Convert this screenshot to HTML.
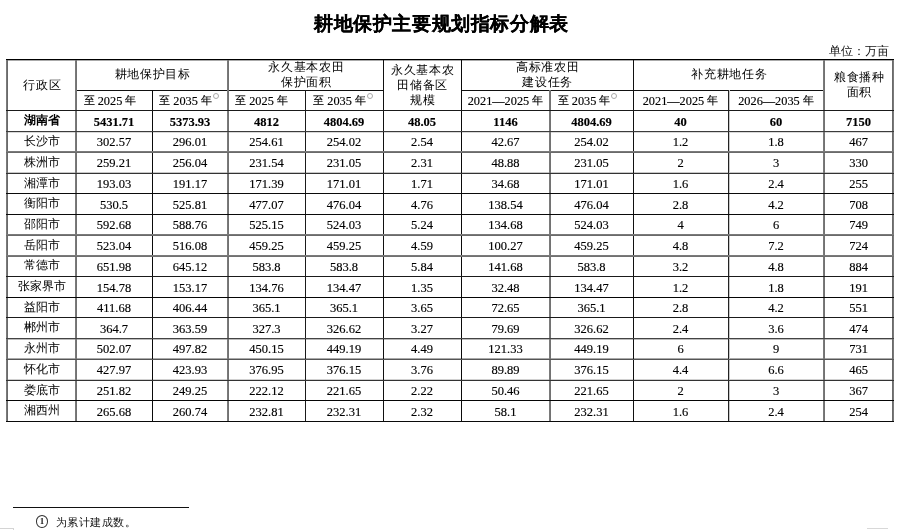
<!DOCTYPE html>
<html><head><meta charset="utf-8">
<style>
html,body{margin:0;padding:0;background:#fff;}
body{width:900px;height:530px;position:relative;overflow:hidden;will-change:transform;font-family:"Liberation Serif",serif;color:#111;}
.l{position:absolute;}
.c{position:absolute;display:flex;align-items:center;justify-content:center;text-align:center;white-space:nowrap;}
.cj{font-family:"Liberation Sans",sans-serif;font-size:12px;line-height:15px;color:#000;}
.sb{font-family:"Liberation Serif",serif;font-size:12.3px;line-height:15px;color:#000;-webkit-text-stroke:0.15px #000;}
.n{font-family:"Liberation Serif",serif;font-size:12.5px;line-height:15px;color:#000;-webkit-text-stroke:0.15px #000;}
.b{font-weight:bold;color:#000;}
.h>span{letter-spacing:0.7px;position:relative;left:0.8px;}
.n>span{display:inline-block;position:relative;top:1.5px;}
.sb>span{position:relative;top:1px;}
.sb .k{top:-1px;}
.sup{display:inline-block;width:4px;height:4px;border:0.8px solid #aaa;border-radius:50%;vertical-align:top;position:relative;top:-1px;margin-left:0.8px;}
.k{font-family:"Liberation Sans",sans-serif;font-size:11px;position:relative;top:1px;}
.title{position:absolute;left:314px;top:11.5px;-webkit-text-stroke:0.2px #000;letter-spacing:0.6px;font-family:"Liberation Serif",serif;font-weight:bold;font-size:19px;line-height:24px;white-space:nowrap;color:#000;}
.unit{position:absolute;left:829px;top:43px;font-family:"Liberation Sans",sans-serif;font-size:12px;line-height:16px;white-space:nowrap;color:#111;}
.fn{position:absolute;left:35px;top:516px;font-family:"Liberation Sans",sans-serif;font-size:10.5px;line-height:13px;white-space:nowrap;color:#111;}
</style></head><body>
<div class="title">耕地保护主要规划指标分解表</div>
<div class="unit">单位：万亩</div>
<div class="l" style="left:76px;top:90px;width:307px;height:1px;background:#111"></div>
<div class="l" style="left:461px;top:90px;width:363px;height:1px;background:#111"></div>
<div class="l" style="left:6px;top:60px;width:888px;height:1px;background:#aaa"></div>
<div class="l" style="left:6px;top:132px;width:888px;height:1px;background:#d8d8d8"></div>
<div class="l" style="left:6px;top:172px;width:888px;height:1px;background:#c8c8c8"></div>
<div class="l" style="left:6px;top:339px;width:888px;height:1px;background:#bbb"></div>
<div class="l" style="left:6px;top:358px;width:888px;height:1px;background:#aaa"></div>
<div class="l" style="left:6px;top:379px;width:888px;height:1px;background:#d0d0d0"></div>
<div class="l" style="left:6px;top:59px;width:1px;height:363px;background:#7a7a7a"></div>
<div class="l" style="left:7px;top:59px;width:1px;height:363px;background:#6a6a6a"></div>
<div class="l" style="left:75px;top:59px;width:1px;height:363px;background:#7a7a7a"></div>
<div class="l" style="left:76px;top:59px;width:1px;height:363px;background:#727272"></div>
<div class="l" style="left:152px;top:90px;width:1px;height:332px;background:#0a0a0a"></div>
<div class="l" style="left:227px;top:59px;width:1px;height:363px;background:#7a7a7a"></div>
<div class="l" style="left:228px;top:59px;width:1px;height:363px;background:#727272"></div>
<div class="l" style="left:305px;top:90px;width:1px;height:332px;background:#1a1a1a"></div>
<div class="l" style="left:383px;top:59px;width:1px;height:363px;background:#111"></div>
<div class="l" style="left:461px;top:59px;width:1px;height:363px;background:#0a0a0a"></div>
<div class="l" style="left:549px;top:90px;width:1px;height:332px;background:#7a7a7a"></div>
<div class="l" style="left:550px;top:90px;width:1px;height:332px;background:#727272"></div>
<div class="l" style="left:633px;top:59px;width:1px;height:363px;background:#111"></div>
<div class="l" style="left:728px;top:90px;width:1px;height:332px;background:#222"></div>
<div class="l" style="left:729px;top:90px;width:1px;height:332px;background:#c8c8c8"></div>
<div class="l" style="left:823px;top:59px;width:1px;height:363px;background:#7a7a7a"></div>
<div class="l" style="left:824px;top:59px;width:1px;height:363px;background:#727272"></div>
<div class="l" style="left:892px;top:59px;width:1px;height:363px;background:#6a6a6a"></div>
<div class="l" style="left:893px;top:59px;width:1px;height:363px;background:#7a7a7a"></div>
<div class="l" style="left:6px;top:59px;width:888px;height:1px;background:#000"></div>
<div class="l" style="left:6px;top:110px;width:888px;height:1px;background:#1a1a1a"></div>
<div class="l" style="left:6px;top:131px;width:888px;height:1px;background:#3c3c3c"></div>
<div class="l" style="left:6px;top:151px;width:888px;height:1px;background:#7a7a7a"></div>
<div class="l" style="left:6px;top:152px;width:888px;height:1px;background:#6a6a6a"></div>
<div class="l" style="left:6px;top:173px;width:888px;height:1px;background:#333"></div>
<div class="l" style="left:6px;top:193px;width:888px;height:1px;background:#0a0a0a"></div>
<div class="l" style="left:6px;top:214px;width:888px;height:1px;background:#0a0a0a"></div>
<div class="l" style="left:6px;top:234px;width:888px;height:1px;background:#7a7a7a"></div>
<div class="l" style="left:6px;top:235px;width:888px;height:1px;background:#6a6a6a"></div>
<div class="l" style="left:6px;top:255px;width:888px;height:1px;background:#7a7a7a"></div>
<div class="l" style="left:6px;top:256px;width:888px;height:1px;background:#707070"></div>
<div class="l" style="left:6px;top:276px;width:888px;height:1px;background:#1a1a1a"></div>
<div class="l" style="left:6px;top:297px;width:888px;height:1px;background:#050505"></div>
<div class="l" style="left:6px;top:317px;width:888px;height:1px;background:#1a1a1a"></div>
<div class="l" style="left:6px;top:338px;width:888px;height:1px;background:#444"></div>
<div class="l" style="left:6px;top:359px;width:888px;height:1px;background:#555"></div>
<div class="l" style="left:6px;top:380px;width:888px;height:1px;background:#333"></div>
<div class="l" style="left:6px;top:400px;width:888px;height:1px;background:#050505"></div>
<div class="l" style="left:6px;top:421px;width:888px;height:1px;background:#0a0a0a"></div>
<div class="c cj h" style="left:7px;top:60px;width:69px;height:51px"><span>行政区</span></div>
<div class="c cj h" style="left:76px;top:59px;width:152px;height:31px"><span>耕地保护目标</span></div>
<div class="c cj h" style="left:228px;top:59px;width:155px;height:31px"><span>永久基本农田<br>保护面积</span></div>
<div class="c cj h" style="left:383px;top:60px;width:78px;height:51px"><span>永久基本农<br>田储备区<br>规模</span></div>
<div class="c cj h" style="left:461px;top:59px;width:172px;height:31px"><span>高标准农田<br>建设任务</span></div>
<div class="c cj h" style="left:633px;top:59px;width:191px;height:31px"><span>补充耕地任务</span></div>
<div class="c cj h" style="left:824px;top:59px;width:69px;height:51px"><span>粮食播种<br>面积</span></div>
<div class="c sb" style="left:72px;top:90px;width:76px;height:20px"><span><span class="k">至</span> 2025 <span class="k">年</span></span></div>
<div class="c sb" style="left:151px;top:90px;width:76px;height:20px"><span><span class="k">至</span> 2035 <span class="k">年</span><span class="sup"></span></span></div>
<div class="c sb" style="left:223px;top:90px;width:77px;height:20px"><span><span class="k">至</span> 2025 <span class="k">年</span></span></div>
<div class="c sb" style="left:304px;top:90px;width:78px;height:20px"><span><span class="k">至</span> 2035 <span class="k">年</span><span class="sup"></span></span></div>
<div class="c sb" style="left:461px;top:90px;width:89px;height:20px"><span>2021—2025 <span class="k">年</span></span></div>
<div class="c sb" style="left:546px;top:90px;width:83px;height:20px"><span><span class="k">至</span> 2035 <span class="k">年</span><span class="sup"></span></span></div>
<div class="c sb" style="left:633px;top:90px;width:95px;height:20px"><span>2021—2025 <span class="k">年</span></span></div>
<div class="c sb" style="left:728px;top:90px;width:96px;height:20px"><span>2026—2035 <span class="k">年</span></span></div>
<div class="c cj b" style="left:7px;top:110px;width:69px;height:21px"><span>湖南省</span></div>
<div class="c n b" style="left:76px;top:110px;width:76px;height:21px"><span>5431.71</span></div>
<div class="c n b" style="left:152px;top:110px;width:76px;height:21px"><span>5373.93</span></div>
<div class="c n b" style="left:228px;top:110px;width:77px;height:21px"><span>4812</span></div>
<div class="c n b" style="left:305px;top:110px;width:78px;height:21px"><span>4804.69</span></div>
<div class="c n b" style="left:383px;top:110px;width:78px;height:21px"><span>48.05</span></div>
<div class="c n b" style="left:461px;top:110px;width:89px;height:21px"><span>1146</span></div>
<div class="c n b" style="left:550px;top:110px;width:83px;height:21px"><span>4804.69</span></div>
<div class="c n b" style="left:633px;top:110px;width:95px;height:21px"><span>40</span></div>
<div class="c n b" style="left:728px;top:110px;width:96px;height:21px"><span>60</span></div>
<div class="c n b" style="left:824px;top:110px;width:69px;height:21px"><span>7150</span></div>
<div class="c cj" style="left:7px;top:131px;width:69px;height:20.5px"><span>长沙市</span></div>
<div class="c n" style="left:76px;top:131px;width:76px;height:20.5px"><span>302.57</span></div>
<div class="c n" style="left:152px;top:131px;width:76px;height:20.5px"><span>296.01</span></div>
<div class="c n" style="left:228px;top:131px;width:77px;height:20.5px"><span>254.61</span></div>
<div class="c n" style="left:305px;top:131px;width:78px;height:20.5px"><span>254.02</span></div>
<div class="c n" style="left:383px;top:131px;width:78px;height:20.5px"><span>2.54</span></div>
<div class="c n" style="left:461px;top:131px;width:89px;height:20.5px"><span>42.67</span></div>
<div class="c n" style="left:550px;top:131px;width:83px;height:20.5px"><span>254.02</span></div>
<div class="c n" style="left:633px;top:131px;width:95px;height:20.5px"><span>1.2</span></div>
<div class="c n" style="left:728px;top:131px;width:96px;height:20.5px"><span>1.8</span></div>
<div class="c n" style="left:824px;top:131px;width:69px;height:20.5px"><span>467</span></div>
<div class="c cj" style="left:7px;top:151.5px;width:69px;height:21.5px"><span>株洲市</span></div>
<div class="c n" style="left:76px;top:151.5px;width:76px;height:21.5px"><span>259.21</span></div>
<div class="c n" style="left:152px;top:151.5px;width:76px;height:21.5px"><span>256.04</span></div>
<div class="c n" style="left:228px;top:151.5px;width:77px;height:21.5px"><span>231.54</span></div>
<div class="c n" style="left:305px;top:151.5px;width:78px;height:21.5px"><span>231.05</span></div>
<div class="c n" style="left:383px;top:151.5px;width:78px;height:21.5px"><span>2.31</span></div>
<div class="c n" style="left:461px;top:151.5px;width:89px;height:21.5px"><span>48.88</span></div>
<div class="c n" style="left:550px;top:151.5px;width:83px;height:21.5px"><span>231.05</span></div>
<div class="c n" style="left:633px;top:151.5px;width:95px;height:21.5px"><span>2</span></div>
<div class="c n" style="left:728px;top:151.5px;width:96px;height:21.5px"><span>3</span></div>
<div class="c n" style="left:824px;top:151.5px;width:69px;height:21.5px"><span>330</span></div>
<div class="c cj" style="left:7px;top:173px;width:69px;height:20px"><span>湘潭市</span></div>
<div class="c n" style="left:76px;top:173px;width:76px;height:20px"><span>193.03</span></div>
<div class="c n" style="left:152px;top:173px;width:76px;height:20px"><span>191.17</span></div>
<div class="c n" style="left:228px;top:173px;width:77px;height:20px"><span>171.39</span></div>
<div class="c n" style="left:305px;top:173px;width:78px;height:20px"><span>171.01</span></div>
<div class="c n" style="left:383px;top:173px;width:78px;height:20px"><span>1.71</span></div>
<div class="c n" style="left:461px;top:173px;width:89px;height:20px"><span>34.68</span></div>
<div class="c n" style="left:550px;top:173px;width:83px;height:20px"><span>171.01</span></div>
<div class="c n" style="left:633px;top:173px;width:95px;height:20px"><span>1.6</span></div>
<div class="c n" style="left:728px;top:173px;width:96px;height:20px"><span>2.4</span></div>
<div class="c n" style="left:824px;top:173px;width:69px;height:20px"><span>255</span></div>
<div class="c cj" style="left:7px;top:193px;width:69px;height:21px"><span>衡阳市</span></div>
<div class="c n" style="left:76px;top:193px;width:76px;height:21px"><span>530.5</span></div>
<div class="c n" style="left:152px;top:193px;width:76px;height:21px"><span>525.81</span></div>
<div class="c n" style="left:228px;top:193px;width:77px;height:21px"><span>477.07</span></div>
<div class="c n" style="left:305px;top:193px;width:78px;height:21px"><span>476.04</span></div>
<div class="c n" style="left:383px;top:193px;width:78px;height:21px"><span>4.76</span></div>
<div class="c n" style="left:461px;top:193px;width:89px;height:21px"><span>138.54</span></div>
<div class="c n" style="left:550px;top:193px;width:83px;height:21px"><span>476.04</span></div>
<div class="c n" style="left:633px;top:193px;width:95px;height:21px"><span>2.8</span></div>
<div class="c n" style="left:728px;top:193px;width:96px;height:21px"><span>4.2</span></div>
<div class="c n" style="left:824px;top:193px;width:69px;height:21px"><span>708</span></div>
<div class="c cj" style="left:7px;top:214px;width:69px;height:20.5px"><span>邵阳市</span></div>
<div class="c n" style="left:76px;top:214px;width:76px;height:20.5px"><span>592.68</span></div>
<div class="c n" style="left:152px;top:214px;width:76px;height:20.5px"><span>588.76</span></div>
<div class="c n" style="left:228px;top:214px;width:77px;height:20.5px"><span>525.15</span></div>
<div class="c n" style="left:305px;top:214px;width:78px;height:20.5px"><span>524.03</span></div>
<div class="c n" style="left:383px;top:214px;width:78px;height:20.5px"><span>5.24</span></div>
<div class="c n" style="left:461px;top:214px;width:89px;height:20.5px"><span>134.68</span></div>
<div class="c n" style="left:550px;top:214px;width:83px;height:20.5px"><span>524.03</span></div>
<div class="c n" style="left:633px;top:214px;width:95px;height:20.5px"><span>4</span></div>
<div class="c n" style="left:728px;top:214px;width:96px;height:20.5px"><span>6</span></div>
<div class="c n" style="left:824px;top:214px;width:69px;height:20.5px"><span>749</span></div>
<div class="c cj" style="left:7px;top:234.5px;width:69px;height:21.0px"><span>岳阳市</span></div>
<div class="c n" style="left:76px;top:234.5px;width:76px;height:21.0px"><span>523.04</span></div>
<div class="c n" style="left:152px;top:234.5px;width:76px;height:21.0px"><span>516.08</span></div>
<div class="c n" style="left:228px;top:234.5px;width:77px;height:21.0px"><span>459.25</span></div>
<div class="c n" style="left:305px;top:234.5px;width:78px;height:21.0px"><span>459.25</span></div>
<div class="c n" style="left:383px;top:234.5px;width:78px;height:21.0px"><span>4.59</span></div>
<div class="c n" style="left:461px;top:234.5px;width:89px;height:21.0px"><span>100.27</span></div>
<div class="c n" style="left:550px;top:234.5px;width:83px;height:21.0px"><span>459.25</span></div>
<div class="c n" style="left:633px;top:234.5px;width:95px;height:21.0px"><span>4.8</span></div>
<div class="c n" style="left:728px;top:234.5px;width:96px;height:21.0px"><span>7.2</span></div>
<div class="c n" style="left:824px;top:234.5px;width:69px;height:21.0px"><span>724</span></div>
<div class="c cj" style="left:7px;top:255.5px;width:69px;height:20.5px"><span>常德市</span></div>
<div class="c n" style="left:76px;top:255.5px;width:76px;height:20.5px"><span>651.98</span></div>
<div class="c n" style="left:152px;top:255.5px;width:76px;height:20.5px"><span>645.12</span></div>
<div class="c n" style="left:228px;top:255.5px;width:77px;height:20.5px"><span>583.8</span></div>
<div class="c n" style="left:305px;top:255.5px;width:78px;height:20.5px"><span>583.8</span></div>
<div class="c n" style="left:383px;top:255.5px;width:78px;height:20.5px"><span>5.84</span></div>
<div class="c n" style="left:461px;top:255.5px;width:89px;height:20.5px"><span>141.68</span></div>
<div class="c n" style="left:550px;top:255.5px;width:83px;height:20.5px"><span>583.8</span></div>
<div class="c n" style="left:633px;top:255.5px;width:95px;height:20.5px"><span>3.2</span></div>
<div class="c n" style="left:728px;top:255.5px;width:96px;height:20.5px"><span>4.8</span></div>
<div class="c n" style="left:824px;top:255.5px;width:69px;height:20.5px"><span>884</span></div>
<div class="c cj" style="left:7px;top:276px;width:69px;height:21px"><span>张家界市</span></div>
<div class="c n" style="left:76px;top:276px;width:76px;height:21px"><span>154.78</span></div>
<div class="c n" style="left:152px;top:276px;width:76px;height:21px"><span>153.17</span></div>
<div class="c n" style="left:228px;top:276px;width:77px;height:21px"><span>134.76</span></div>
<div class="c n" style="left:305px;top:276px;width:78px;height:21px"><span>134.47</span></div>
<div class="c n" style="left:383px;top:276px;width:78px;height:21px"><span>1.35</span></div>
<div class="c n" style="left:461px;top:276px;width:89px;height:21px"><span>32.48</span></div>
<div class="c n" style="left:550px;top:276px;width:83px;height:21px"><span>134.47</span></div>
<div class="c n" style="left:633px;top:276px;width:95px;height:21px"><span>1.2</span></div>
<div class="c n" style="left:728px;top:276px;width:96px;height:21px"><span>1.8</span></div>
<div class="c n" style="left:824px;top:276px;width:69px;height:21px"><span>191</span></div>
<div class="c cj" style="left:7px;top:297px;width:69px;height:20px"><span>益阳市</span></div>
<div class="c n" style="left:76px;top:297px;width:76px;height:20px"><span>411.68</span></div>
<div class="c n" style="left:152px;top:297px;width:76px;height:20px"><span>406.44</span></div>
<div class="c n" style="left:228px;top:297px;width:77px;height:20px"><span>365.1</span></div>
<div class="c n" style="left:305px;top:297px;width:78px;height:20px"><span>365.1</span></div>
<div class="c n" style="left:383px;top:297px;width:78px;height:20px"><span>3.65</span></div>
<div class="c n" style="left:461px;top:297px;width:89px;height:20px"><span>72.65</span></div>
<div class="c n" style="left:550px;top:297px;width:83px;height:20px"><span>365.1</span></div>
<div class="c n" style="left:633px;top:297px;width:95px;height:20px"><span>2.8</span></div>
<div class="c n" style="left:728px;top:297px;width:96px;height:20px"><span>4.2</span></div>
<div class="c n" style="left:824px;top:297px;width:69px;height:20px"><span>551</span></div>
<div class="c cj" style="left:7px;top:317px;width:69px;height:21px"><span>郴州市</span></div>
<div class="c n" style="left:76px;top:317px;width:76px;height:21px"><span>364.7</span></div>
<div class="c n" style="left:152px;top:317px;width:76px;height:21px"><span>363.59</span></div>
<div class="c n" style="left:228px;top:317px;width:77px;height:21px"><span>327.3</span></div>
<div class="c n" style="left:305px;top:317px;width:78px;height:21px"><span>326.62</span></div>
<div class="c n" style="left:383px;top:317px;width:78px;height:21px"><span>3.27</span></div>
<div class="c n" style="left:461px;top:317px;width:89px;height:21px"><span>79.69</span></div>
<div class="c n" style="left:550px;top:317px;width:83px;height:21px"><span>326.62</span></div>
<div class="c n" style="left:633px;top:317px;width:95px;height:21px"><span>2.4</span></div>
<div class="c n" style="left:728px;top:317px;width:96px;height:21px"><span>3.6</span></div>
<div class="c n" style="left:824px;top:317px;width:69px;height:21px"><span>474</span></div>
<div class="c cj" style="left:7px;top:338px;width:69px;height:20.5px"><span>永州市</span></div>
<div class="c n" style="left:76px;top:338px;width:76px;height:20.5px"><span>502.07</span></div>
<div class="c n" style="left:152px;top:338px;width:76px;height:20.5px"><span>497.82</span></div>
<div class="c n" style="left:228px;top:338px;width:77px;height:20.5px"><span>450.15</span></div>
<div class="c n" style="left:305px;top:338px;width:78px;height:20.5px"><span>449.19</span></div>
<div class="c n" style="left:383px;top:338px;width:78px;height:20.5px"><span>4.49</span></div>
<div class="c n" style="left:461px;top:338px;width:89px;height:20.5px"><span>121.33</span></div>
<div class="c n" style="left:550px;top:338px;width:83px;height:20.5px"><span>449.19</span></div>
<div class="c n" style="left:633px;top:338px;width:95px;height:20.5px"><span>6</span></div>
<div class="c n" style="left:728px;top:338px;width:96px;height:20.5px"><span>9</span></div>
<div class="c n" style="left:824px;top:338px;width:69px;height:20.5px"><span>731</span></div>
<div class="c cj" style="left:7px;top:358.5px;width:69px;height:21.5px"><span>怀化市</span></div>
<div class="c n" style="left:76px;top:358.5px;width:76px;height:21.5px"><span>427.97</span></div>
<div class="c n" style="left:152px;top:358.5px;width:76px;height:21.5px"><span>423.93</span></div>
<div class="c n" style="left:228px;top:358.5px;width:77px;height:21.5px"><span>376.95</span></div>
<div class="c n" style="left:305px;top:358.5px;width:78px;height:21.5px"><span>376.15</span></div>
<div class="c n" style="left:383px;top:358.5px;width:78px;height:21.5px"><span>3.76</span></div>
<div class="c n" style="left:461px;top:358.5px;width:89px;height:21.5px"><span>89.89</span></div>
<div class="c n" style="left:550px;top:358.5px;width:83px;height:21.5px"><span>376.15</span></div>
<div class="c n" style="left:633px;top:358.5px;width:95px;height:21.5px"><span>4.4</span></div>
<div class="c n" style="left:728px;top:358.5px;width:96px;height:21.5px"><span>6.6</span></div>
<div class="c n" style="left:824px;top:358.5px;width:69px;height:21.5px"><span>465</span></div>
<div class="c cj" style="left:7px;top:380px;width:69px;height:20px"><span>娄底市</span></div>
<div class="c n" style="left:76px;top:380px;width:76px;height:20px"><span>251.82</span></div>
<div class="c n" style="left:152px;top:380px;width:76px;height:20px"><span>249.25</span></div>
<div class="c n" style="left:228px;top:380px;width:77px;height:20px"><span>222.12</span></div>
<div class="c n" style="left:305px;top:380px;width:78px;height:20px"><span>221.65</span></div>
<div class="c n" style="left:383px;top:380px;width:78px;height:20px"><span>2.22</span></div>
<div class="c n" style="left:461px;top:380px;width:89px;height:20px"><span>50.46</span></div>
<div class="c n" style="left:550px;top:380px;width:83px;height:20px"><span>221.65</span></div>
<div class="c n" style="left:633px;top:380px;width:95px;height:20px"><span>2</span></div>
<div class="c n" style="left:728px;top:380px;width:96px;height:20px"><span>3</span></div>
<div class="c n" style="left:824px;top:380px;width:69px;height:20px"><span>367</span></div>
<div class="c cj" style="left:7px;top:400px;width:69px;height:21px"><span>湘西州</span></div>
<div class="c n" style="left:76px;top:400px;width:76px;height:21px"><span>265.68</span></div>
<div class="c n" style="left:152px;top:400px;width:76px;height:21px"><span>260.74</span></div>
<div class="c n" style="left:228px;top:400px;width:77px;height:21px"><span>232.81</span></div>
<div class="c n" style="left:305px;top:400px;width:78px;height:21px"><span>232.31</span></div>
<div class="c n" style="left:383px;top:400px;width:78px;height:21px"><span>2.32</span></div>
<div class="c n" style="left:461px;top:400px;width:89px;height:21px"><span>58.1</span></div>
<div class="c n" style="left:550px;top:400px;width:83px;height:21px"><span>232.31</span></div>
<div class="c n" style="left:633px;top:400px;width:95px;height:21px"><span>1.6</span></div>
<div class="c n" style="left:728px;top:400px;width:96px;height:21px"><span>2.4</span></div>
<div class="c n" style="left:824px;top:400px;width:69px;height:21px"><span>254</span></div>
<div class="l" style="left:13px;top:507px;width:176px;height:1px;background:#111"></div>
<div style="position:absolute;left:36px;top:515px;width:10px;height:10.5px;border:1.2px solid #333;border-radius:50%;font-family:'Liberation Serif',serif;font-weight:bold;font-size:9px;line-height:11.5px;text-align:center;color:#222">1</div><div class="l" style="left:0;top:528px;width:13px;height:1px;background:#d4d4d4"></div><div class="l" style="left:13px;top:528px;width:1px;height:2px;background:#d4d4d4"></div><div class="l" style="left:867px;top:528px;width:21px;height:1px;background:#d8d8d8"></div>
<div class="fn" style="left:55.7px;letter-spacing:0.55px">为累计建成数。</div>
</body></html>
